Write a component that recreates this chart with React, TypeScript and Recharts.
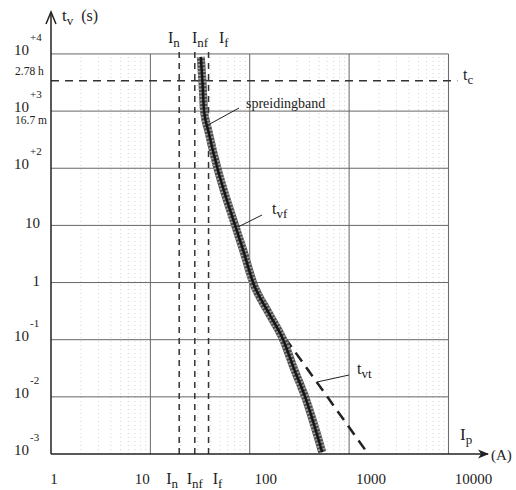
import { LineChart, Line, XAxis, YAxis, ReferenceLine } from 'recharts';

// fuse curve: spreidingband (current in A, time in s)
const bandCurrent = [32.2, 33.4, 34.7, 38.1, 47.3, 58.8, 71.3, 85.8, 108, 154, 217, 281, 361, 536];
const bandTime = [8860, 3370, 1000, 468, 100, 27.9, 10, 3.7, 1, 0.3, 0.1, 0.03, 0.01, 0.00108];

// t_vt dashed line
const vtCurrent = [227, 604, 1557];
const vtTime = [0.107, 0.01, 0.001];

// characteristic currents In, Inf, If
const markNames = ['n', 'nf', 'f'];
const markCurrents = [19.5, 28, 38.5];

// t_c level
const tcTime = 3400;

const xDecades = [1, 10, 100, 1000, 10000];
const yDecades = [0.001, 0.01, 0.1, 1, 10, 100, 1000, 10000];
const yBase = ['10', '10', '10', '1', '10', '10', '10', '10'];
const yExp = ['-3', '-2', '-1', '', '', '+2', '+3', '+4'];
const ySub = ['', '', '', '', '', '', '16.7 m', '2.78 h'];
const xLabels = ['1', '10', '100', '1000', '10000'];

const bandData = bandCurrent.map((i, k) => ({ i, t: bandTime[k] }));
const vtData = vtCurrent.map((i, k) => ({ i, t: vtTime[k] }));

const FONT = '"Liberation Serif", "DejaVu Serif", serif';
const INK = '#222';

const minorX: number[] = [];
xDecades.slice(0, 4).forEach((d) => {
  for (let m = 2; m <= 9; m++) minorX.push(d * m);
});

const xTicks = [1, 10, ...markCurrents, 100, 1000, 10000];
const xShift: Record<string, number> = { '1': 3, '10': -8, n: -7, nf: 0, f: 9, '100': 16, '1000': 22, '10000': 25 };

function XTick(props: any) {
  const { x, payload } = props;
  const v = payload.value;
  const mi = markCurrents.indexOf(v);
  if (mi >= 0) {
    const name = markNames[mi];
    return (
      <text x={x + xShift[name]} y={484} textAnchor="middle" fontFamily={FONT} fontSize={16} fill={INK}>
        I<tspan fontSize={13} dy={4}>{name}</tspan>
      </text>
    );
  }
  const lbl = xLabels[xDecades.indexOf(v)];
  return (
    <text x={x + xShift[lbl]} y={484} textAnchor="middle" fontFamily={FONT} fontSize={15} fill={INK}>
      {lbl}
    </text>
  );
}

function YTick(props: any) {
  const { y, payload } = props;
  const k = yDecades.indexOf(payload.value);
  if (k < 0) return null;
  const exp = yExp[k];
  return (
    <g fontFamily={FONT} fill={INK}>
      {exp ? (
        <>
          <text x={14} y={y + 1} fontSize={15}>{yBase[k]}</text>
          <text x={30} y={y - 13} fontSize={11}>{exp}</text>
        </>
      ) : (
        <text x={40} y={y + 3} fontSize={15} textAnchor="end">{yBase[k]}</text>
      )}
      {ySub[k] && (
        <text x={15} y={y + (k === 7 ? 21 : 13)} fontSize={11.5}>{ySub[k]}</text>
      )}
    </g>
  );
}

export default function App() {
  return (
    <div style={{ position: 'absolute', left: 0, top: 0, width: 516, height: 490, background: '#fff' }}>
      <LineChart width={516} height={490} margin={{ top: 14, right: 28, left: 0, bottom: 0 }}>
        <XAxis
          dataKey="i"
          type="number"
          scale="log"
          domain={[1, 25000]}
          allowDataOverflow
          ticks={xTicks}
          interval={0}
          tick={<XTick />}
          tickLine={false}
          axisLine={{ stroke: INK, strokeWidth: 1.5 }}
          height={36}
        />
        <YAxis
          dataKey="t"
          type="number"
          scale="log"
          domain={[0.001, 50000]}
          allowDataOverflow
          ticks={yDecades}
          interval={0}
          tick={<YTick />}
          tickLine={false}
          axisLine={{ stroke: INK, strokeWidth: 1.5 }}
          width={51}
        />
        {minorX.map((v) => (
          <ReferenceLine key={`mx${v}`} segment={[{ x: v, y: 0.001 }, { x: v, y: 10000 }]} stroke="#d2d2d2" strokeDasharray="1 3" />
        ))}
        {yDecades.slice(1).map((v) => (
          <ReferenceLine key={`gy${v}`} segment={[{ x: 1, y: v }, { x: 10000, y: v }]} stroke="#666" strokeWidth={1} />
        ))}
        {xDecades.slice(1).map((v) => (
          <ReferenceLine key={`gx${v}`} segment={[{ x: v, y: 0.001 }, { x: v, y: 10000 }]} stroke="#666" strokeWidth={1} />
        ))}
        {markCurrents.map((v) => (
          <ReferenceLine key={`m${v}`} segment={[{ x: v, y: 0.001 }, { x: v, y: 11800 }]} stroke="#333" strokeWidth={1.5} strokeDasharray="6 5" />
        ))}
        <ReferenceLine segment={[{ x: 1, y: tcTime }, { x: 12300, y: tcTime }]} stroke="#333" strokeWidth={1.5} strokeDasharray="8 6" />
        <Line data={vtData} dataKey="t" type="linear" stroke="#222" strokeWidth={2.5} strokeDasharray="11 7" dot={false} isAnimationActive={false} />
        <Line data={bandData} dataKey="t" type="monotone" stroke="#4a4a4a" strokeWidth={8} dot={false} isAnimationActive={false} />
        <Line data={bandData} dataKey="t" type="monotone" stroke="#a0a0a0" strokeWidth={8} strokeDasharray="1.5 2" dot={false} isAnimationActive={false} />
        <Line data={bandData} dataKey="t" type="monotone" stroke="#151515" strokeWidth={2.5} dot={false} isAnimationActive={false} />
      </LineChart>
      <svg width={516} height={490} style={{ position: 'absolute', left: 0, top: 0, pointerEvents: 'none' }} fontFamily={FONT} fill={INK}>
        <polyline points="46,24 51,12 56,24" fill="none" stroke={INK} strokeWidth={1.5} />
        <path d="M489,454 L478,449.5 L481,454 L478,458.5 Z" fill={INK} />
        <text x={62} y={21} fontSize={17}>t<tspan fontSize={13} dy={4}>v</tspan><tspan dy={-4} fontSize={16} dx={8}>(s)</tspan></text>
        <text x={168} y={43} fontSize={16}>I<tspan fontSize={13} dy={4}>n</tspan></text>
        <text x={192} y={43} fontSize={16}>I<tspan fontSize={13} dy={4}>nf</tspan></text>
        <text x={219} y={43} fontSize={16}>I<tspan fontSize={13} dy={4}>f</tspan></text>
        <text x={463} y={80} fontSize={16}>t<tspan fontSize={13} dy={4}>c</tspan></text>
        <line x1={208} y1={125} x2={239} y2={108} stroke={INK} strokeWidth={1} />
        <text x={246} y={108} fontSize={14}>spreidingband</text>
        <line x1={238} y1={227} x2={262} y2={215} stroke={INK} strokeWidth={1} />
        <text x={272} y={214} fontSize={16}>t<tspan fontSize={13} dy={4}>vf</tspan></text>
        <line x1={317} y1={382} x2={349} y2={375} stroke={INK} strokeWidth={1} />
        <text x={357} y={374} fontSize={16}>t<tspan fontSize={13} dy={4}>vt</tspan></text>
        <text x={460} y={440} fontSize={17}>I<tspan fontSize={13} dy={4}>p</tspan></text>
        <text x={491} y={460} fontSize={15}>(A)</text>
      </svg>
    </div>
  );
}
